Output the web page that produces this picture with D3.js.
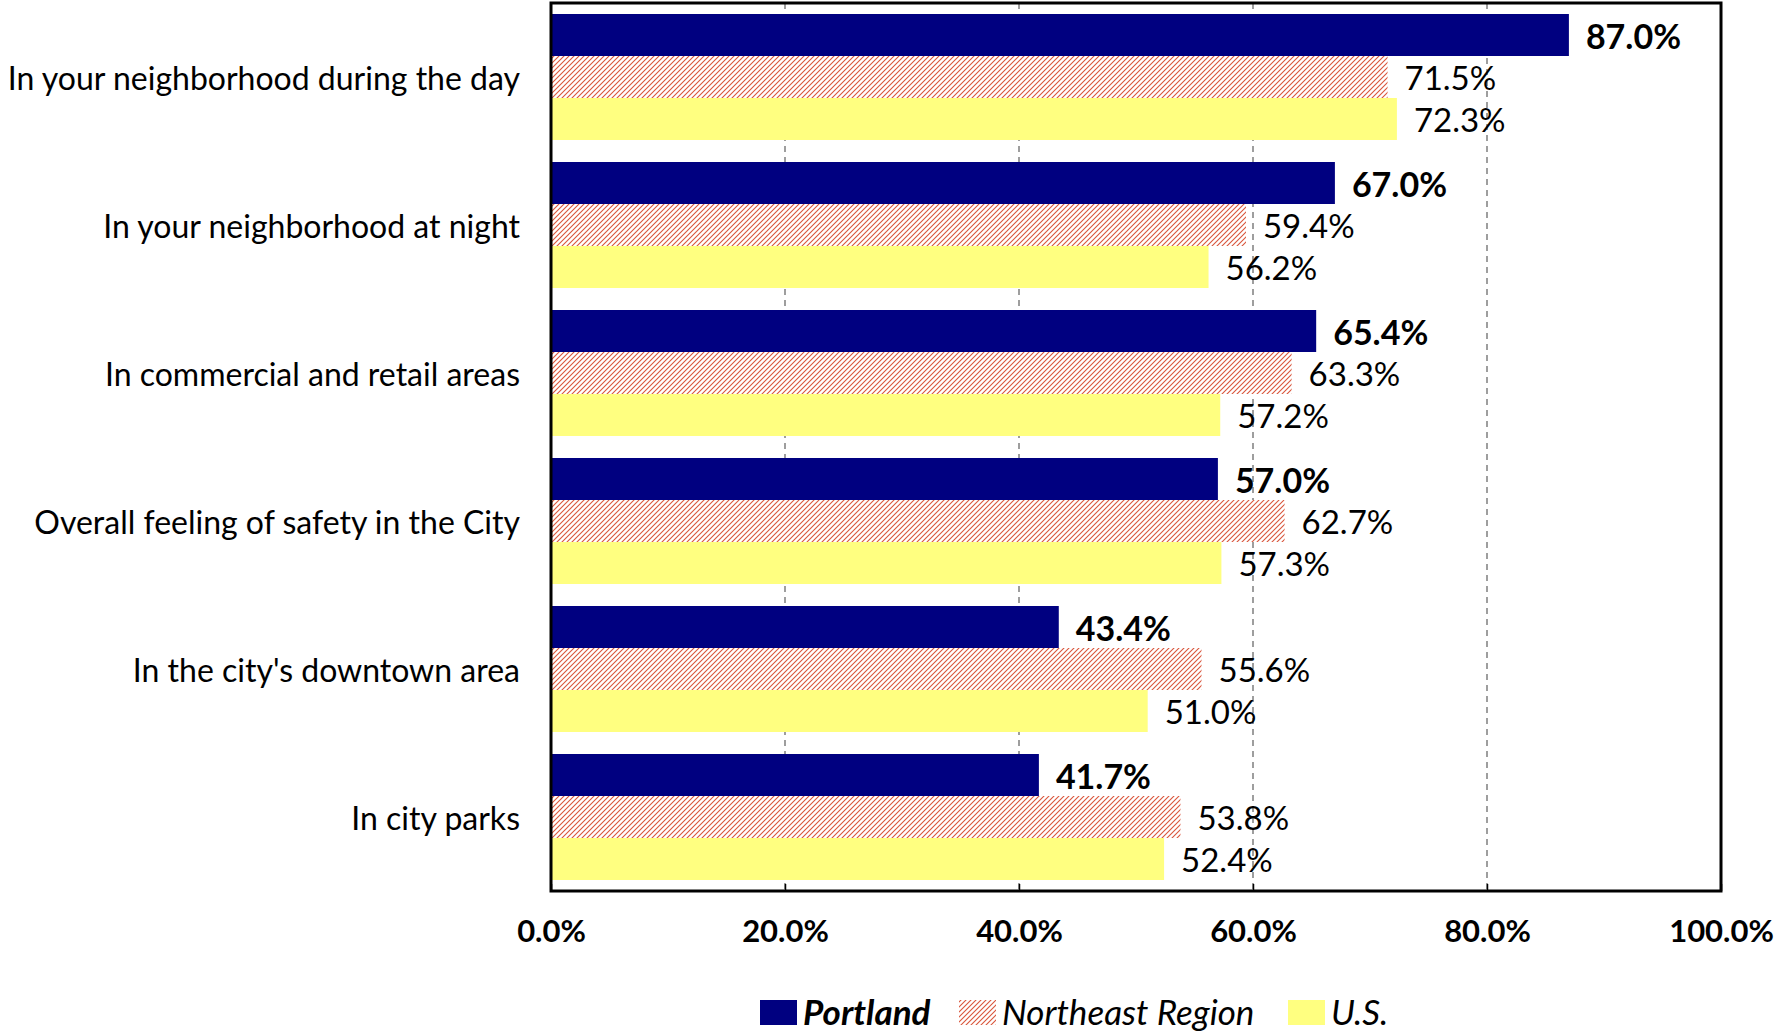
<!DOCTYPE html>
<html lang="en">
<head>
<meta charset="utf-8">
<script src="https://d3js.org/d3.v7.min.js"></script>
<style type="text/css">
body {
	margin: 0;
	background: #fff;
	font-family: Lato, "Open Sans", sans-serif;
}
</style>
</head>
<body>
<script type="text/javascript">

// chart values
var categories = [
  "In your neighborhood during the day",
  "In your neighborhood at night",
  "In commercial and retail areas",
  "Overall feeling of safety in the City",
  "In the city's downtown area",
  "In city parks"
];
var series = ["Portland", "Northeast Region", "U.S."];
var portland = [87.0, 67.0, 65.4, 57.0, 43.4, 41.7];
var northeast = [71.5, 59.4, 63.3, 62.7, 55.6, 53.8];
var usa = [72.3, 56.2, 57.2, 57.3, 51.0, 52.4];
var xTicks = [0, 20, 40, 60, 80, 100];

var width = 1774;
var height = 1034;
var margin = {top: 3, left: 551, right: 53, bottom: 143};
var plotW = width - margin.left - margin.right;
var plotH = height - margin.top - margin.bottom;

var colors = {"Portland": "#000080", "Northeast Region": "url(#hatch)", "U.S.": "#ffff80"};

var rows = categories.map(function(c, i) {
  return {cat: c, values: [portland[i], northeast[i], usa[i]]};
});

var svg = d3.select("body")
            .append("svg")
            .attr("width", width)
            .attr("height", height);

// hatch pattern for Northeast Region
var pat = svg.append("defs")
             .append("pattern")
             .attr("id", "hatch")
             .attr("patternUnits", "userSpaceOnUse")
             .attr("width", 5)
             .attr("height", 5);
pat.append("rect").attr("width", 5).attr("height", 5).attr("fill", "#fff");
pat.append("path")
   .attr("d", "M-1,1 l2,-2 M0,5 l5,-5 M4,6 l2,-2")
   .attr("stroke", "#d9553b")
   .attr("stroke-width", 1.1);

var x = d3.scaleLinear().domain([0, 100]).range([0, plotW]);

var y0 = d3.scaleBand()
           .domain(categories)
           .range([0, plotH])
           .paddingInner(22 / 148)
           .paddingOuter(11 / 148);

var y1 = d3.scaleBand()
           .domain(series)
           .range([0, y0.bandwidth()]);

var g = svg.append("g")
           .attr("transform", "translate(" + margin.left + "," + margin.top + ")");

// dashed gridlines
g.selectAll(".grid")
 .data(xTicks.slice(1, -1))
 .enter()
 .append("line")
 .attr("x1", function(d) { return x(d); })
 .attr("x2", function(d) { return x(d); })
 .attr("y1", 0)
 .attr("y2", plotH)
 .attr("stroke", "#7f7f7f")
 .attr("stroke-width", 1.5)
 .attr("stroke-dasharray", "6,5");

// bars
var groups = g.selectAll(".cat")
              .data(rows)
              .enter()
              .append("g")
              .attr("transform", function(d) { return "translate(0," + y0(d.cat) + ")"; });

groups.selectAll("rect")
      .data(function(d) { return d.values.map(function(v, i) { return {s: series[i], v: v}; }); })
      .enter()
      .append("rect")
      .attr("x", 0)
      .attr("y", function(d) { return y1(d.s); })
      .attr("width", function(d) { return x(d.v); })
      .attr("height", y1.bandwidth())
      .attr("fill", function(d) { return colors[d.s]; });

// value labels
groups.selectAll("text")
      .data(function(d) { return d.values.map(function(v, i) { return {s: series[i], v: v}; }); })
      .enter()
      .append("text")
      .attr("x", function(d) { return x(d.v) + 17; })
      .attr("y", function(d) { return y1(d.s) + y1.bandwidth() / 2; })
      .attr("dy", "0.4em")
      .style("font-size", function(d) { return d.s === "Portland" ? "34px" : "33px"; })
      .style("font-weight", function(d) { return d.s === "Portland" ? "bold" : "normal"; })
      .text(function(d) { return d.v.toFixed(1) + "%"; });

// category labels
g.selectAll(".catlabel")
 .data(categories)
 .enter()
 .append("text")
 .attr("x", -31)
 .attr("y", function(d) { return y0(d) + y0.bandwidth() / 2; })
 .attr("dy", "0.4em")
 .attr("text-anchor", "end")
 .style("font-size", "32px")
 .text(function(d) { return d; });

// x axis
var xAxis = g.append("g")
             .attr("transform", "translate(0," + plotH + ")")
             .call(d3.axisBottom(x)
                     .tickValues(xTicks)
                     .tickSize(-7)
                     .tickFormat(function(d) { return d.toFixed(1) + "%"; }));
xAxis.select(".domain").remove();
xAxis.selectAll("line").attr("stroke", "#000").attr("stroke-width", 1.5);
xAxis.selectAll("text")
     .attr("y", 40)
     .attr("dy", "0.36em")
     .attr("fill", "#000")
     .style("font-size", "31px")
     .style("font-weight", "bold")
     .style("font-family", "Lato, sans-serif");

// plot frame
g.append("rect")
 .attr("width", plotW)
 .attr("height", plotH)
 .attr("fill", "none")
 .attr("stroke", "#000")
 .attr("stroke-width", 3);

// legend
var legendX = [760, 959, 1288];
var legend = svg.selectAll(".legend")
                .data(series)
                .enter()
                .append("g")
                .attr("transform", function(d, i) { return "translate(" + legendX[i] + ",1012)"; });

legend.append("rect")
      .attr("y", -12)
      .attr("width", 37)
      .attr("height", 25)
      .attr("fill", function(d) { return colors[d]; });

legend.append("text")
      .attr("x", 43)
      .attr("dy", "0.36em")
      .style("font-size", "35px")
      .style("font-style", "italic")
      .style("font-weight", function(d) { return d === "Portland" ? "bold" : "normal"; })
      .text(function(d) { return d; });

</script>
</body>
</html>
